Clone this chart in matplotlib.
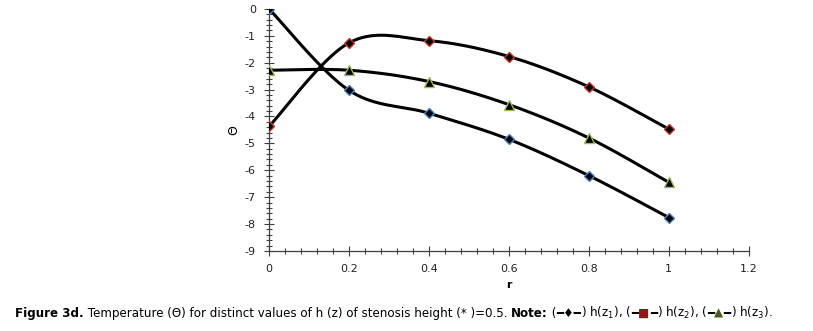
import numpy as np
import matplotlib.pyplot as plt
from matplotlib.ticker import MultipleLocator

plt.rcParams['axes.unicode_minus'] = False

# ── Data ──────────────────────────────────────────────────────────────────────
r = [0, 0.2, 0.4, 0.6, 0.8, 1.0]
theta_z1 = [0.0, -3.03, -3.88, -4.85, -6.2, -7.76]
theta_z2 = [-4.37, -1.26, -1.18, -1.77, -2.9, -4.47]
theta_z3 = [-2.28, -2.28, -2.7, -3.56, -4.8, -6.45]

X_TICKS = [0, 0.2, 0.4, 0.6, 0.8, 1, 1.2]
X_TICKLABELS = ['0', '0.2', '0.4', '0.6', '0.8', '1', '1.2']


def smooth(x, y, n=40):
    # Excel-like smoothed line: cubic Bezier through the points
    x = np.asarray(x, float)
    y = np.asarray(y, float)
    pts = np.column_stack([x, y])
    out = []
    for i in range(len(pts) - 1):
        p0 = pts[max(i - 1, 0)]
        p1 = pts[i]
        p2 = pts[i + 1]
        p3 = pts[min(i + 2, len(pts) - 1)]
        c1 = p1 + (p2 - p0) / 6
        c2 = p2 - (p3 - p1) / 6
        t = np.linspace(0, 1, n)[:, None]
        seg = ((1 - t) ** 3) * p1 + 3 * ((1 - t) ** 2) * t * c1 \
            + 3 * (1 - t) * t ** 2 * c2 + t ** 3 * p2
        out.append(seg if i == 0 else seg[1:])
    out = np.vstack(out)
    return out[:, 0], out[:, 1]


fig = plt.figure(figsize=(8.13, 3.31), dpi=100)
ax = fig.add_axes([0.331, 0.242, 0.59, 0.731])

series = [
    (theta_z1, 'D', '#4a7fc1'),
    (theta_z2, 'D', '#c0392b'),
    (theta_z3, '^', '#9bbb59'),
]
for vals, mk, ec in series:
    sx, sy = smooth(r, vals)
    ax.plot(sx, sy, color='black', lw=2.2, zorder=2)
    ax.plot(r, vals, ls='none', marker=mk, ms=5.5 if mk == 'D' else 6.5,
            mfc='black', mec=ec, mew=1.0, zorder=3)

ax.set_xlim(0, 1.2)
ax.set_ylim(-9, 0)
ax.set_xticks(X_TICKS)
ax.set_xticklabels(X_TICKLABELS)
ax.xaxis.set_minor_locator(MultipleLocator(0.04))
ax.yaxis.set_major_locator(MultipleLocator(1))
ax.yaxis.set_minor_locator(MultipleLocator(0.2))
ax.tick_params(which='major', direction='inout', length=7, width=0.8,
               color='#404040', labelsize=8, labelcolor='#222222', pad=6)
ax.tick_params(which='minor', direction='inout', length=5, width=0.8,
               color='#404040')
for s in ['top', 'right']:
    ax.spines[s].set_visible(False)
for s in ['left', 'bottom']:
    ax.spines[s].set_color('#404040')
    ax.spines[s].set_linewidth(0.9)

ax.set_xlabel('r', fontsize=8, fontweight='bold', labelpad=4)
ax.set_ylabel('Θ', fontsize=9, labelpad=3)

# ── Caption with mixed styles (pieces laid out on one baseline) ──────────────
FS = 8.6
pieces = [
    ('Figure 3d.', 'bold', 'black'),
    (' Temperature (Θ) for distinct values of h (z) of stenosis height (* )=0.5. ', 'normal', 'black'),
    ('Note:', 'bold', 'black'),
    (' (', 'normal', 'black'),
    ('━♦━', 'normal', 'black'),
    (') h(z$_1$), (', 'normal', 'black'),
    ('━', 'normal', 'black'),
    ('■', 'normal', '#8b1a1a'),
    ('━', 'normal', 'black'),
    (') h(z$_2$), (', 'normal', 'black'),
    ('━', 'normal', 'black'),
    ('▲', 'normal', '#4a5a20'),
    ('━', 'normal', 'black'),
    (') h(z$_3$).', 'normal', 'black'),
]
renderer = fig.canvas.get_renderer()
x_px = 15
y_fig = 1 - 317 / 331
for txt, fw, col in pieces:
    t = fig.text(x_px / 813, y_fig, txt, fontsize=FS, fontweight=fw,
                 color=col, va='baseline', ha='left')
    bb = t.get_window_extent(renderer)
    x_px += bb.width

fig.savefig('out.png', dpi=100)
